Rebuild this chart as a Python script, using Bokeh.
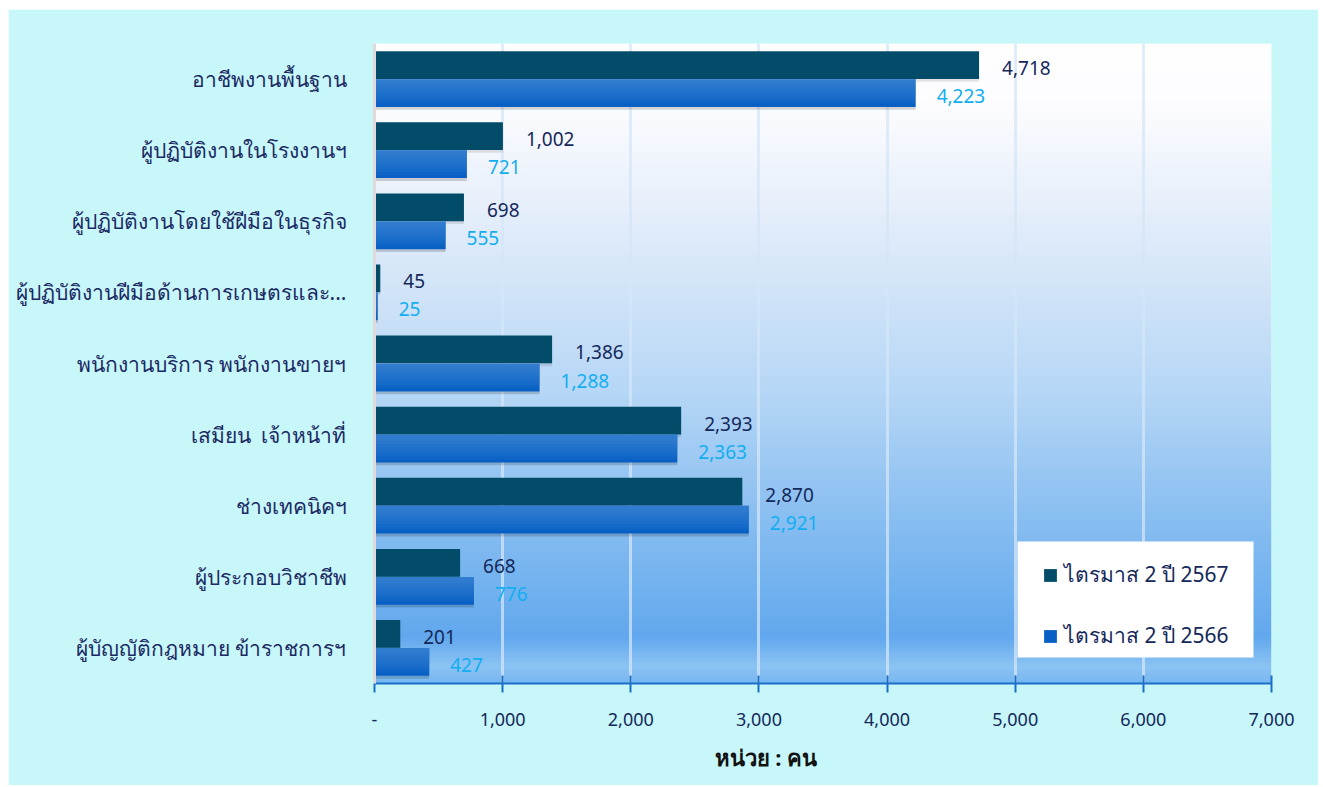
import numpy as np
from bokeh.plotting import figure
from bokeh.models import (ColumnDataSource, Range1d, Legend, LegendItem,
                          Title, FixedTicker, BoxAnnotation)
from bokeh.transform import dodge
from bokeh.embed import file_html
from bokeh.resources import INLINE

# ---------------- data ----------------
categories = [
    "อาชีพงานพื้นฐาน",
    "ผู้ปฏิบัติงานในโรงงานฯ",
    "ผู้ปฏิบัติงานโดยใช้ฝีมือในธุรกิจ",
    "ผู้ปฏิบัติงานฝีมือด้านการเกษตรและ...",
    "พนักงานบริการ พนักงานขายฯ",
    "เสมียน \u00a0เจ้าหน้าที่",
    "ช่างเทคนิคฯ",
    "ผู้ประกอบวิชาชีพ",
    "ผู้บัญญัติกฎหมาย ข้าราชการฯ",
]
q2_2567 = [4718, 1002, 698, 45, 1386, 2393, 2870, 668, 201]
q2_2566 = [4223, 721, 555, 25, 1288, 2363, 2921, 776, 427]
series_names = ["ไตรมาส 2 ปี 2567", "ไตรมาส 2 ปี 2566"]
x_ticks = [0, 1000, 2000, 3000, 4000, 5000, 6000, 7000]
x_tick_labels = ["-", "1,000", "2,000", "3,000", "4,000", "5,000", "6,000", "7,000"]
x_title = "หน่วย : คน"

FONT = "Noto Sans"

ncat = len(categories)
ypos = [ncat - 0.5 - i for i in range(ncat)]  # first category at top

src = ColumnDataSource(dict(
    y=ypos,
    v67=q2_2567,
    v66=q2_2566,
    l67=[f"{v:,}" for v in q2_2567],
    l66=[f"{v:,}" for v in q2_2566],
))

FRAME_W, FRAME_H = 897, 640
p = figure(
    width=1310, height=776,
    y_range=Range1d(0, ncat),
    x_range=Range1d(0, 7000),
    output_backend="svg", toolbar_location=None,
    min_border_left=366, min_border_right=47, min_border_top=34, min_border_bottom=102,
    background_fill_color="#c8f7fa", border_fill_color="#c8f7fa",
    outline_line_color=None,
    margin=(9, 0, 0, 8),
)

# ---------------- gradient background of the plot area ----------------
stops_t = [0.0, 0.09, 0.245, 0.40, 0.555, 0.71, 0.87, 0.93, 0.975, 1.0]
stops_c = [(255, 255, 255), (253, 253, 255), (232, 240, 251), (207, 227, 248),
           (180, 214, 246), (144, 194, 242), (110, 176, 239), (98, 168, 238),
           (140, 196, 244), (120, 184, 242)]
N = 200
t = np.linspace(1.0, 0.0, N)  # row 0 = bottom
rgb = np.array([[np.interp(tt, stops_t, [c[k] for c in stops_c]) for k in range(3)] for tt in t])
img = np.zeros((N, 1), dtype=np.uint32)
view = img.view(dtype=np.uint8).reshape((N, 1, 4))
view[:, 0, 0] = rgb[:, 0].astype(np.uint8)
view[:, 0, 1] = rgb[:, 1].astype(np.uint8)
view[:, 0, 2] = rgb[:, 2].astype(np.uint8)
view[:, 0, 3] = 255
p.image_rgba(image=[img], x=0, y=0, dw=7000, dh=ncat, level="image")

# ---------------- bars ----------------
BH = 0.39
OFF = 0.197
# shadows
p.hbar(y=dodge("y", -OFF - 0.04), right="v66", left=0, height=BH,
       source=src, fill_color="#000000", fill_alpha=0.16, line_color=None)
p.hbar(y=dodge("y", OFF - 0.04), right="v67", left=0, height=BH,
       source=src, fill_color="#000000", fill_alpha=0.10, line_color=None)

r67 = p.hbar(y=dodge("y", OFF), right="v67", left=0, height=BH,
             source=src, fill_color="#024c69", line_color=None)

# blue bar: base colour plus lighter overlays anchored at the top edge
r66 = p.hbar(y=dodge("y", -OFF), right="v66", left=0, height=BH,
             source=src, fill_color="#0860c4", line_color=None)
for k in range(1, 9):
    h = BH * (1 - k / 9)
    p.hbar(y=dodge("y", -OFF + BH / 2 - h / 2), right="v66", left=0, height=h,
           source=src, fill_color="#5a98e0", fill_alpha=0.09, line_color=None)

# ---------------- value labels ----------------
p.text(x="v67", y=dodge("y", OFF), text="l67", source=src,
       x_offset=23, y_offset=3, text_baseline="middle", text_align="left",
       text_font_size="19px", text_color="#14285a", text_font={"value": FONT})
p.text(x="v66", y=dodge("y", -OFF), text="l66", source=src,
       x_offset=21, y_offset=3, text_baseline="middle", text_align="left",
       text_font_size="19px", text_color="#12aef0", text_font={"value": FONT})

# ---------------- axes / grid ----------------
p.xgrid.ticker = FixedTicker(ticks=x_ticks)
p.xgrid.grid_line_color = "#d4e6f8"
p.xgrid.grid_line_alpha = 0.75
p.xgrid.grid_line_width = 3
p.ygrid.grid_line_color = None

xa = p.xaxis[0]
xa.ticker = FixedTicker(ticks=x_ticks)
xa.major_label_overrides = {t_: l_ for t_, l_ in zip(x_ticks, x_tick_labels)}
xa.axis_line_color = "#1a6fc8"
xa.axis_line_width = 2
xa.major_tick_line_color = "#1a6fc8"
xa.major_tick_line_width = 2
xa.major_tick_in = 8
xa.major_tick_out = 9
xa.minor_tick_line_color = None
xa.major_label_standoff = 20
xa.major_label_text_font = FONT
xa.major_label_text_font_size = "18px"
xa.major_label_text_color = "#14285a"

ya = p.yaxis[0]
ya.ticker = FixedTicker(ticks=ypos)
ya.major_label_overrides = {yy: c for yy, c in zip(ypos, categories)}
ya.axis_line_color = "#e2dada"
ya.axis_line_width = 3
ya.major_tick_line_color = None
ya.minor_tick_line_color = None
ya.major_label_standoff = 22
ya.major_label_text_font = FONT
ya.major_label_text_font_size = "21px"
ya.major_label_text_color = "#1b2a63"

ttl = Title(text=x_title, align="left", offset=340, text_font=FONT,
            text_font_size="22px", text_font_style="bold", text_color="#111111",
            standoff=22)
p.add_layout(ttl, "below")

# ---------------- legend (white box + transparent legend) ----------------
# legend box in frame pixels: left 643, right 879, bottom 26, top 142
px2x = 7000 / FRAME_W
px2y = ncat / FRAME_H
p.add_layout(BoxAnnotation(left=643 * px2x, right=879 * px2x,
                           bottom=26 * px2y, top=142 * px2y,
                           fill_color="white", fill_alpha=1.0, line_color=None,
                           level="annotation"))

legend = Legend(items=[LegendItem(label=series_names[0], renderers=[r67]),
                       LegendItem(label=series_names[1], renderers=[r66])],
                location=(668, 31))
legend.background_fill_alpha = 0.0
legend.border_line_color = None
legend.label_text_font = FONT
legend.label_text_font_size = "21px"
legend.label_text_color = "#14285a"
legend.glyph_width = 16
legend.glyph_height = 16
legend.label_standoff = 6
legend.label_width = 170
legend.label_height = 30
legend.spacing = 28
legend.margin = 0
p.add_layout(legend, "center")

open("out.html", "w").write(file_html(p, INLINE))
